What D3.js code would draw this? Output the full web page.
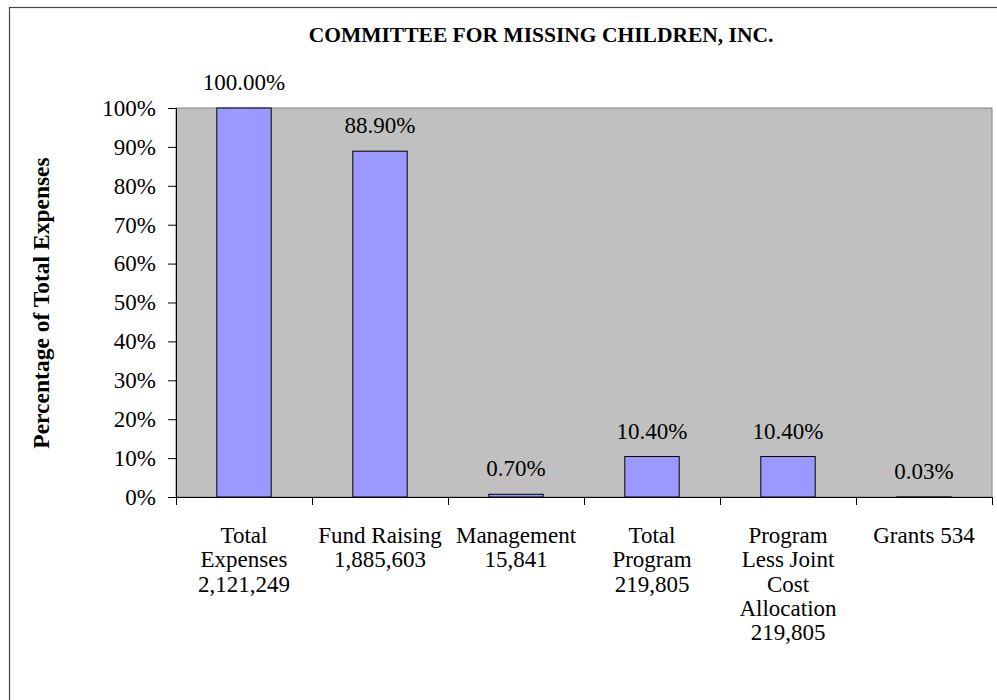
<!DOCTYPE html>
<html>
<head>
<meta charset="utf-8">
<script src="https://cdn.jsdelivr.net/npm/d3@7"></script>
<style>
  body { margin: 0; background: #fff; }
  svg { display: block; font-family: "Liberation Serif", "Times New Roman", serif; }
</style>
</head>
<body>
<div id="chart"></div>
<script>
"use strict";

// data
const categories = [
    ["Total", "Expenses", "2,121,249"],
    ["Fund Raising", "1,885,603"],
    ["Management", "15,841"],
    ["Total", "Program", "219,805"],
    ["Program", "Less Joint", "Cost", "Allocation", "219,805"],
    ["Grants 534"]
];
const values = [1.0, 0.889, 0.007, 0.104, 0.104, 0.0003];
const valueLabels = ["100.00%", "88.90%", "0.70%", "10.40%", "10.40%", "0.03%"];
const yTicks = [0, 0.1, 0.2, 0.3, 0.4, 0.5, 0.6, 0.7, 0.8, 0.9, 1.0];

const width = 997, height = 700;
const plot = { left: 176, right: 992, top: 108, bottom: 497 };
const fontSize = 23;

const svg = d3.select("#chart").append("svg")
    .attr("width", width)
    .attr("height", height);

// outer chart border (runs off the page at right and bottom)
svg.append("rect")
    .attr("x", 9.5).attr("y", 7.5)
    .attr("width", 1000).attr("height", 720)
    .attr("fill", "#fff")
    .attr("stroke", "#444")
    .attr("stroke-width", 1.2);

const x = d3.scaleBand()
    .domain(d3.range(categories.length))
    .range([plot.left, plot.right])
    .paddingInner(0.6)
    .paddingOuter(0.3);

const y = d3.scaleLinear()
    .domain([0, 1])
    .range([plot.bottom, plot.top]);

// plot area background
svg.append("rect")
    .attr("x", plot.left).attr("y", plot.top)
    .attr("width", plot.right - plot.left)
    .attr("height", plot.bottom - plot.top)
    .attr("fill", "#c0c0c0")
    .attr("stroke", "#808080")
    .attr("stroke-width", 1);

// bars
svg.append("g").selectAll("rect")
    .data(values)
    .join("rect")
    .attr("x", (d, i) => x(i))
    .attr("y", d => y(d))
    .attr("width", x.bandwidth())
    .attr("height", d => y(0) - y(d))
    .attr("fill", "#9999ff")
    .attr("stroke", "#000")
    .attr("stroke-width", 1);

// value labels above the bars
svg.append("g").selectAll("text")
    .data(values)
    .join("text")
    .attr("x", (d, i) => x(i) + x.bandwidth() / 2)
    .attr("y", d => y(d) - 18)
    .attr("text-anchor", "middle")
    .attr("font-size", fontSize)
    .text((d, i) => valueLabels[i]);

// y axis
const yAxis = d3.axisLeft(y)
    .tickValues(yTicks)
    .tickFormat(d3.format(".0%"))
    .tickSize(8)
    .tickPadding(12);

const gy = svg.append("g")
    .attr("transform", `translate(${plot.left},0)`)
    .call(yAxis);
gy.select(".domain").attr("stroke", "#000");
gy.selectAll(".tick text")
    .attr("font-size", fontSize)
    .attr("font-family", "Liberation Serif, serif")
    .attr("fill", "#000");

// x axis: line plus ticks between categories
const step = x.step();
const xTickPos = d3.range(categories.length + 1).map(i => plot.left + i * step);
svg.append("line")
    .attr("x1", plot.left).attr("x2", plot.right)
    .attr("y1", plot.bottom + 0.5).attr("y2", plot.bottom + 0.5)
    .attr("stroke", "#000");
svg.append("g").selectAll("line")
    .data(xTickPos)
    .join("line")
    .attr("x1", d => Math.round(d) + 0.5).attr("x2", d => Math.round(d) + 0.5)
    .attr("y1", plot.bottom).attr("y2", plot.bottom + 8)
    .attr("stroke", "#000");

// category labels
const catText = svg.append("g").selectAll("text")
    .data(categories)
    .join("text")
    .attr("text-anchor", "middle")
    .attr("font-size", fontSize)
    .attr("x", (d, i) => x(i) + x.bandwidth() / 2)
    .attr("y", 543);
catText.selectAll("tspan")
    .data((d, i) => d.map(t => ({ t, i })))
    .join("tspan")
    .attr("x", d => x(d.i) + x.bandwidth() / 2)
    .attr("dy", (d, j) => j === 0 ? 0 : 24.3)
    .text(d => d.t);

// title
svg.append("text")
    .attr("x", 541)
    .attr("y", 42)
    .attr("text-anchor", "middle")
    .attr("font-size", 21.5)
    .attr("font-weight", "bold")
    .text("COMMITTEE FOR MISSING CHILDREN, INC.");

// y axis title
svg.append("text")
    .attr("transform", "translate(49,303) rotate(-90)")
    .attr("text-anchor", "middle")
    .attr("font-size", 23.5)
    .attr("font-weight", "bold")
    .text("Percentage of Total Expenses");
</script>
</body>
</html>
